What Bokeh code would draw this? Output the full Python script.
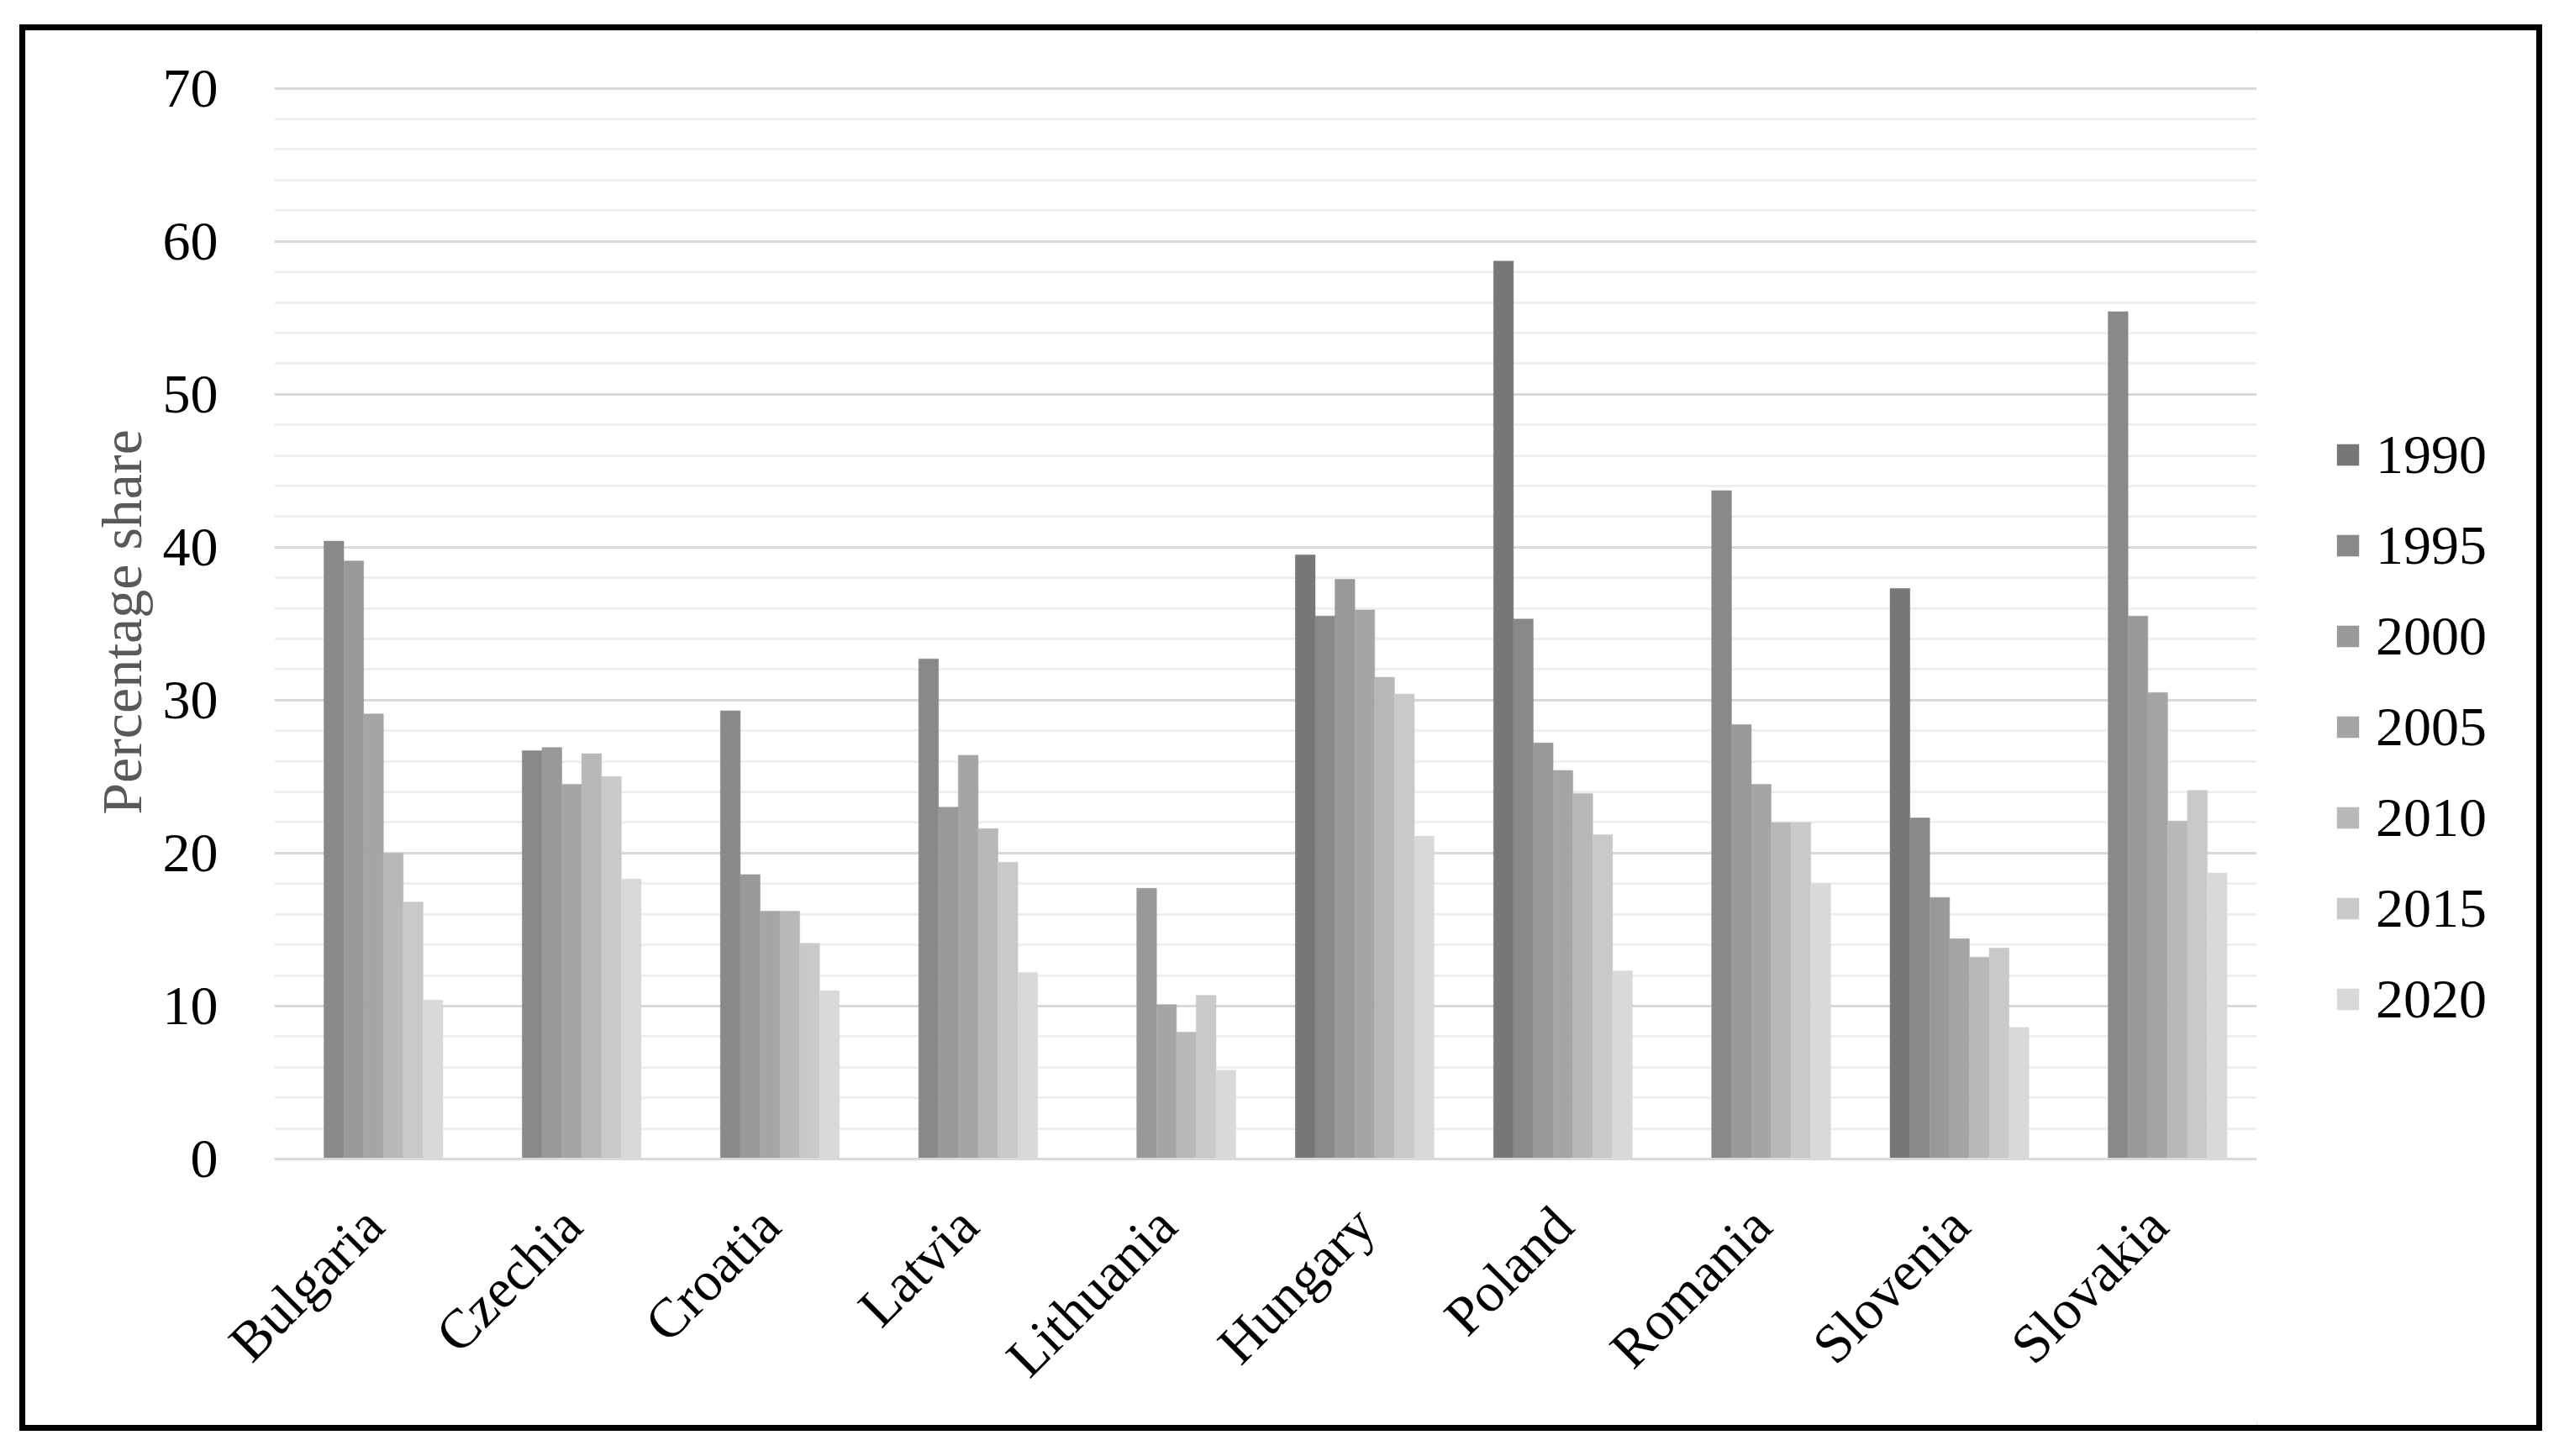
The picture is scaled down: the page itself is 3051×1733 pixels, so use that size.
import math
from bokeh.plotting import figure
from bokeh.layouts import column, row
from bokeh.models import (ColumnDataSource, FactorRange, Range1d, Legend, LegendItem,
                          SingleIntervalTicker, Spacer)
from bokeh.transform import dodge
from bokeh.embed import file_html
from bokeh.resources import INLINE

countries = ["Bulgaria", "Czechia", "Croatia", "Latvia", "Lithuania",
             "Hungary", "Poland", "Romania", "Slovenia", "Slovakia"]
years = ["1990", "1995", "2000", "2005", "2010", "2015", "2020"]

N = None
v1990 = [N, N, N, N, N, 39.5, 58.7, N, 37.3, N]
v1995 = [40.4, 26.7, 29.3, 32.7, N, 35.5, 35.3, 43.7, 22.3, 55.4]
v2000 = [39.1, 26.9, 18.6, 23.0, 17.7, 37.9, 27.2, 28.4, 17.1, 35.5]
v2005 = [29.1, 24.5, 16.2, 26.4, 10.1, 35.9, 25.4, 24.5, 14.4, 30.5]
v2010 = [20.0, 26.5, 16.2, 21.6, 8.3, 31.5, 23.9, 22.0, 13.2, 22.1]
v2015 = [16.8, 25.0, 14.1, 19.4, 10.7, 30.4, 21.2, 22.0, 13.8, 24.1]
v2020 = [10.4, 18.3, 11.0, 12.2, 5.8, 21.1, 12.3, 18.0, 8.6, 18.7]
series = [v1990, v1995, v2000, v2005, v2010, v2015, v2020]

colors = ["#777777", "#898989", "#999999", "#a5a5a5", "#b8b8b8", "#c9c9c9", "#d9d9d9"]

FONT = "Liberation Serif"
FS = "66px"

# main chart
p = figure(x_range=FactorRange(*countries, range_padding=0), y_range=Range1d(0, 70.2),
           width=2655, height=1660, output_backend="svg", toolbar_location=None,
           min_border_left=296, min_border_right=0, min_border_top=65, min_border_bottom=317)
p.outline_line_color = None
p.background_fill_color = "white"
p.border_fill_color = "white"

# legend panel (own figure so the legend is not clipped by the chart frame)
pl = figure(width=333, height=1660, output_backend="svg", toolbar_location=None,
            min_border=0)
pl.axis.visible = False
pl.grid.visible = False
pl.outline_line_color = None
pl.background_fill_color = "white"
pl.border_fill_color = "white"

bar_w = 0.1
items = []
for i, (yr, vals) in enumerate(zip(years, series)):
    xs = [c for c, v in zip(countries, vals) if v is not None]
    ys = [v for v in vals if v is not None]
    src = ColumnDataSource(dict(country=xs, value=ys))
    p.vbar(x=dodge("country", (i - 3) * bar_w, range=p.x_range), top="value", bottom=0,
           width=bar_w, source=src, fill_color=colors[i], line_color=colors[i], line_width=0.5)
    # zero-height proxy glyph that only supplies the legend key colour
    key = pl.vbar(x=[0], top=[0], bottom=0, width=0, fill_color=colors[i], line_color=None)
    items.append(LegendItem(label=yr, renderers=[key]))

# grid
p.xgrid.grid_line_color = None
p.yaxis.ticker = SingleIntervalTicker(interval=10, num_minor_ticks=5)
p.ygrid.grid_line_color = "#d9d9d9"
p.ygrid.grid_line_width = 3
p.ygrid.minor_grid_line_color = "#efefef"
p.ygrid.minor_grid_line_width = 3

# y axis
p.yaxis.axis_line_color = None
p.yaxis.major_tick_line_color = None
p.yaxis.minor_tick_line_color = None
p.yaxis.major_label_text_font = FONT
p.yaxis.major_label_text_font_size = FS
p.yaxis.major_label_text_color = "black"
p.yaxis.major_label_standoff = 61
p.yaxis.axis_label = "Percentage share"
p.yaxis.axis_label_text_font = FONT
p.yaxis.axis_label_text_font_size = "68px"
p.yaxis.axis_label_text_font_style = "normal"
p.yaxis.axis_label_text_color = "#595959"
p.yaxis.axis_label_standoff = 8

# x axis
p.xaxis.axis_line_color = "#d9d9d9"
p.xaxis.axis_line_width = 3
p.xaxis.major_tick_line_color = None
p.xaxis.minor_tick_line_color = None
p.xaxis.major_label_text_font = FONT
p.xaxis.major_label_text_font_size = FS
p.xaxis.major_label_text_color = "black"
p.xaxis.major_label_orientation = math.pi / 4
p.xaxis.major_label_standoff = 62

legend = Legend(items=items, location=(92, 152), orientation="vertical", ncols=1,
                glyph_width=33, glyph_height=32, label_standoff=17, spacing=32,
                padding=0, margin=0, border_line_color=None, background_fill_alpha=0,
                label_text_font=FONT, label_text_font_size=FS, label_text_color="black")
pl.add_layout(legend, "center")

chart = row(p, pl, spacing=0)
chart.styles = {"border": "7px solid black", "box-sizing": "content-box",
                "outline": "4px solid #d9d9d9", "outline-offset": "-11px",
                "background-color": "white"}

page = column(Spacer(height=29, width=10), row(Spacer(width=23, height=10), chart))

open("out.html", "w").write(file_html(page, INLINE))
